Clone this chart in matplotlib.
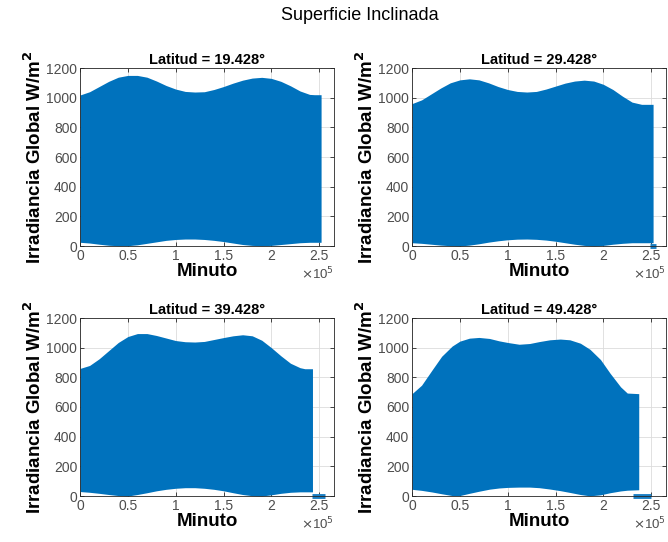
"""Superficie inclinada: global irradiance envelopes for four latitudes (MATLAB-style 2x2)."""

import matplotlib

matplotlib.use("Agg")
import matplotlib.pyplot as plt

plt.rcParams["font.family"] = ["Liberation Sans", "DejaVu Sans"]

BLUE = "#0072BD"

LATITUDES = ["19.428", "29.428", "39.428", "49.428"]

# envelope knots, x in units of 1e5 minutes
X_LAT1 = [0, 0.1, 0.2, 0.3, 0.4, 0.5, 0.6, 0.7, 0.8, 0.9, 1.0, 1.1, 1.2, 1.3,
          1.4, 1.5, 1.6, 1.7, 1.8, 1.9, 2.0, 2.1, 2.2, 2.3, 2.4, 2.45, 2.52]
UP_LAT1 = [1018, 1040, 1075, 1110, 1138, 1150, 1150, 1138, 1112, 1082, 1058, 1042,
           1038, 1040, 1055, 1075, 1098, 1118, 1132, 1137, 1130, 1110, 1080, 1045,
           1022, 1020, 1020]
LO_LAT1 = [25, 20, 12, 5, 2, 2, 8, 18, 28, 38, 44, 47, 47, 44, 38, 30, 20, 10, 4,
           2, 4, 10, 16, 22, 25, 25, 25]

X_LAT2 = [0, 0.1, 0.2, 0.3, 0.4, 0.5, 0.6, 0.7, 0.8, 0.9, 1.0, 1.1, 1.2, 1.3,
          1.4, 1.5, 1.6, 1.7, 1.8, 1.9, 2.0, 2.1, 2.2, 2.3, 2.4, 2.52]
UP_LAT2 = [960, 985, 1025, 1065, 1100, 1120, 1127, 1120, 1100, 1075, 1055, 1042,
           1038, 1042, 1058, 1078, 1098, 1112, 1118, 1112, 1090, 1055, 1010, 970,
           955, 955]
LO_LAT2 = [22, 18, 12, 6, 2, 0, 6, 15, 26, 35, 42, 46, 47, 45, 40, 32, 22, 12, 4,
           0, 4, 12, 18, 22, 22, 22]

X_LAT3 = [0, 0.1, 0.2, 0.3, 0.4, 0.5, 0.6, 0.7, 0.8, 0.9, 1.0, 1.1, 1.2, 1.3,
          1.4, 1.5, 1.6, 1.7, 1.8, 1.9, 2.0, 2.1, 2.2, 2.3, 2.35, 2.43]
UP_LAT3 = [860, 880, 925, 980, 1035, 1075, 1095, 1095, 1082, 1065, 1048, 1040,
           1038, 1042, 1055, 1068, 1080, 1087, 1080, 1050, 1000, 945, 895, 865,
           858, 858]
LO_LAT3 = [30, 25, 18, 10, 3, 0, 10, 22, 35, 45, 52, 56, 56, 52, 45, 35, 22, 10,
           2, 0, 8, 18, 25, 28, 28, 28]

X_LAT4 = [0, 0.1, 0.21, 0.31, 0.42, 0.5, 0.6, 0.7, 0.81, 0.91, 1.0, 1.12, 1.23,
          1.33, 1.44, 1.55, 1.65, 1.76, 1.86, 1.97, 2.07, 2.18, 2.25, 2.37]
UP_LAT4 = [690, 747, 850, 942, 1011, 1044, 1064, 1069, 1062, 1046, 1035, 1023,
           1028, 1041, 1053, 1058, 1053, 1030, 989, 920, 828, 736, 694, 690]
LO_LAT4 = [45, 38, 27, 15, 3, 3, 18, 32, 46, 54, 58, 60, 60, 56, 47, 36, 24, 10,
           1, 8, 22, 34, 39, 42]

# stretches where the signal sits at zero after the last day
ZERO_SPAN = [None, (2.49, 2.55), (2.42, 2.56), (2.31, 2.50)]

XS = [X_LAT1, X_LAT2, X_LAT3, X_LAT4]
UPS = [UP_LAT1, UP_LAT2, UP_LAT3, UP_LAT4]
LOS = [LO_LAT1, LO_LAT2, LO_LAT3, LO_LAT4]

X_TICKS = [0, 0.5, 1, 1.5, 2, 2.5]
X_TICK_LABELS = ["0", "0.5", "1", "1.5", "2", "2.5"]
Y_TICKS = [0, 200, 400, 600, 800, 1000, 1200]


def main():
    fig = plt.figure(figsize=(6.68, 5.42), dpi=100)
    W, H = 668, 542
    boxes = [(80, 68), (412, 68), (80, 318), (412, 318)]
    aw, ah = 254, 178

    for i, (left, top) in enumerate(boxes):
        ax = fig.add_axes([left / W, 1 - (top + ah) / H, aw / W, ah / H])
        xs = [x * 1e5 for x in XS[i]]
        ax.fill_between(xs, LOS[i], UPS[i], color=BLUE, linewidth=0, zorder=2)
        if ZERO_SPAN[i] is not None:
            a, b = ZERO_SPAN[i]
            ax.plot([a * 1e5, b * 1e5], [0, 0], color="#1A7FC4", linewidth=3.5,
                    solid_capstyle="butt", zorder=2, clip_on=False)

        ax.set_xlim(0, 2.655e5)
        ax.set_ylim(0, 1200)
        ax.set_xticks([t * 1e5 for t in X_TICKS])
        ax.set_xticklabels(X_TICK_LABELS)
        ax.set_yticks(Y_TICKS)
        ax.set_axisbelow(True)
        ax.grid(True, color="#DCDCDC", linewidth=0.6)
        ax.tick_params(direction="in", top=True, right=True, length=3,
                       width=0.6, labelsize=10, colors="#262626",
                       labelcolor="#4D4D4D", pad=2)
        for sp in ax.spines.values():
            sp.set_linewidth(0.6)
            sp.set_color("#262626")

        ax.set_title(f"Latitud = {LATITUDES[i]}°", fontsize=10.5,
                     fontweight="bold", pad=3)
        ax.set_xlabel("Minuto", fontsize=13.5, fontweight="bold", labelpad=0)
        ax.set_ylabel("Irradiancia Global W/m$^\\mathbf{2}$", fontsize=13.5,
                      fontweight="bold", labelpad=1)
        ax.text(1.0, -0.11, "$\\times$10$^5$", transform=ax.transAxes,
                ha="right", va="top", fontsize=9.5, color="#4D4D4D")

    fig.text(360 / W, 1 - 16 / H, "Superficie Inclinada", ha="center",
             va="center", fontsize=13)

    fig.savefig("out.png", dpi=100)
    plt.close(fig)


if __name__ == "__main__":
    main()
